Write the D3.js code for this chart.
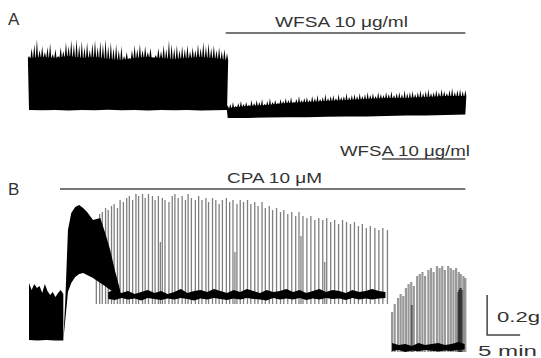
<!DOCTYPE html>
<html lang="en">
<head>
  <meta charset="UTF-8">
  <title>WFSA / CPA tension traces</title>
  <style>
    body { margin: 0; background: #fff; }
    text { font-family: 'Liberation Sans', Arial, sans-serif; fill: #333; }
  </style>
  <script src="https://d3js.org/d3.v7.min.js"></script>
</head>
<body>
<script>
  // ---- data (time in min, tension in g) ----
  const timeMax = 66.2;

  // A: before WFSA. contraction peaks every 0.4 min from t=0
  const aHighPeaks = [0.33,0.37,0.39,0.415,0.36,0.38,0.35,0.375,0.395,0.34,
    0.365,0.33,0.375,0.355,0.40,0.38,0.41,0.39,0.415,0.385,
    0.405,0.375,0.40,0.36,0.395,0.41,0.375,0.405,0.39,0.415,
    0.38,0.40,0.37,0.39,0.36,0.38,0.33,0.35,0.32,0.36,
    0.385,0.365,0.39,0.36,0.38,0.35,0.37,0.31,0.335,0.37,
    0.355,0.385,0.365,0.41,0.39,0.37,0.385,0.36,0.38,0.365,
    0.385,0.355,0.375,0.36,0.39,0.37,0.40,0.38,0.395,0.37,
    0.385,0.36,0.375,0.355,0.365,0.345];
  // solid part of the trace and its floor, every 2 min from t=0
  const aHighSolid = [0.32,0.325,0.32,0.33,0.32,0.325,0.315,0.31,0.32,0.325,0.32,0.315,0.32,0.325,0.32,0.31];
  const aHighBot = [0.06,0.059,0.06,0.058,0.06,0.059,0.061,0.059,0.06,0.058,0.06,0.059,0.06,0.058,0.059,0.06];

  // A: with WFSA. peaks every 0.4 min from t=30.1
  const aLowPeaks = [0.085,0.09,0.10,0.08,0.095,0.105,0.09,0.10,0.085,0.11,
    0.095,0.11,0.10,0.115,0.09,0.105,0.12,0.10,0.11,0.095,
    0.115,0.105,0.12,0.11,0.125,0.10,0.115,0.13,0.11,0.12,
    0.125,0.11,0.13,0.12,0.135,0.115,0.125,0.14,0.12,0.13,
    0.135,0.12,0.14,0.125,0.13,0.145,0.125,0.135,0.14,0.13,
    0.145,0.13,0.14,0.15,0.135,0.145,0.13,0.15,0.14,0.135,
    0.15,0.14,0.155,0.135,0.145,0.15,0.14,0.16,0.145,0.15,
    0.155,0.14,0.15,0.16,0.145,0.155,0.165,0.145,0.15,0.16,
    0.15,0.165,0.155,0.145,0.16,0.17,0.15,0.16,0.165,0.155,0.16];
  // every 3 min from t=30.1
  const aLowSolid = [0.07,0.08,0.085,0.095,0.10,0.105,0.11,0.115,0.12,0.12,0.125,0.13,0.13];
  const aLowBot = [0.02,0.02,0.022,0.024,0.024,0.026,0.028,0.028,0.03,0.032,0.033,0.035,0.037];

  // B: control, every 0.4 min from t=0 (top) / every 1.3 min (bottom)
  const bPreTop = [0.345,0.31,0.34,0.32,0.33,0.295,0.34,0.305,0.285,0.30,0.275,0.295,0.31,0.29];
  const bPreBot = [0.06,0.057,0.06,0.058,0.057];

  // B: initial CPA contracture
  const humpT   = [5.2, 5.5, 5.9, 6.4, 7.0, 7.6, 8.2, 8.8, 9.7, 10.8, 11.5, 12.3, 13.0, 13.8];
  const humpTop = [0.06,0.26,0.61,0.695,0.725,0.735,0.72,0.70,0.66,0.67,0.60,0.51,0.41,0.31];
  const humpBot = [0.06,0.16,0.30,0.345,0.375,0.39,0.395,0.385,0.37,0.345,0.33,0.31,0.30,0.29];

  // B: baseline band under CPA, every 1 min from t=12
  const bBaseTop = [0.30,0.31,0.295,0.305,0.29,0.30,0.31,0.295,0.305,0.29,0.30,0.315,0.295,0.305,0.31,
    0.30,0.315,0.305,0.295,0.31,0.30,0.315,0.305,0.295,0.31,0.30,0.305,0.315,0.30,0.31,
    0.295,0.305,0.315,0.30,0.31,0.305,0.295,0.31,0.30,0.305,0.315,0.305,0.30];
  const bBaseBot = [0.265,0.26,0.27,0.262,0.268,0.258,0.27,0.265,0.26,0.268,0.262,0.27,0.265,0.258,0.268,
    0.262,0.27,0.265,0.26,0.268,0.262,0.27,0.265,0.262,0.258,0.27,0.262,0.268,0.262,0.27,
    0.26,0.268,0.262,0.27,0.265,0.268,0.26,0.27,0.262,0.268,0.262,0.268,0.27];

  // B: phasic spikes under CPA [time, peak]
  const cpaSpikes = [[10.2,0.66],[10.7,0.69],[11.1,0.70],[11.6,0.72],[12.0,0.71],[12.5,0.73],[12.9,0.74],[13.4,0.72],
    [13.8,0.76],[14.3,0.75],[14.8,0.77],[15.2,0.78],[15.7,0.76],[16.2,0.79],[16.6,0.78],[17.2,0.79],[17.6,0.77],
    [18.1,0.79],[18.7,0.78],[19.1,0.76],[19.6,0.78],[19.9,0.55],[20.2,0.77],[20.6,0.76],[21.2,0.75],[21.7,0.78],
    [22.1,0.79],[22.6,0.77],[23.2,0.78],[23.7,0.76],[24.1,0.79],[24.6,0.77],[25.2,0.76],[25.7,0.78],[26.2,0.76],
    [26.8,0.77],[27.2,0.75],[27.8,0.77],[28.3,0.76],[28.8,0.74],[29.3,0.76],[29.9,0.77],[30.4,0.75],[30.9,0.76],
    [31.2,0.50],[31.5,0.74],[32.0,0.76],[32.5,0.75],[33.1,0.76],[33.6,0.74],[34.2,0.75],[34.7,0.73],[35.3,0.75],
    [35.8,0.72],[36.4,0.73],[36.9,0.71],[37.5,0.72],[38.1,0.70],[38.6,0.71],[39.2,0.69],[39.8,0.70],[40.4,0.68],
    [40.9,0.70],[41.2,0.58],[41.5,0.68],[42.1,0.67],[42.7,0.68],[43.3,0.66],[43.9,0.67],[44.5,0.66],[44.8,0.45],
    [45.1,0.67],[45.7,0.65],[46.3,0.66],[46.9,0.64],[47.5,0.66],[48.1,0.65],[48.7,0.64],[49.3,0.65],[49.9,0.63],
    [50.5,0.64],[51.1,0.62],[51.7,0.63],[52.4,0.62],[53.0,0.61],[53.6,0.62],[54.3,0.61]];

  // B: CPA + WFSA, baseline every 1 min from t=55
  const bLowTop = [0.045,0.035,0.04,0.03,0.045,0.035,0.04,0.045,0.035,0.04,0.05,0.04];
  const bLowBot = [0.005,0.01,0.0,0.008,0.004,0.01,0.006,0.002,0.008,0.005,0.01,0.012];
  const wfsaSpikes = [[55.0,0.20],[55.4,0.24],[55.9,0.27],[56.3,0.29],[56.7,0.28],[57.1,0.32],[57.5,0.34],
    [57.9,0.35],[58.0,0.235],[58.3,0.33],[58.8,0.38],[59.2,0.39],[59.6,0.40],[60.0,0.38],[60.5,0.41],[60.9,0.42],
    [61.3,0.40],[61.8,0.43],[62.2,0.42],[62.6,0.43],[63.0,0.41],[63.5,0.43],[63.9,0.42],[64.3,0.41],[64.7,0.42],
    [65.0,0.30],[65.1,0.40],[65.15,0.31],[65.3,0.32],[65.4,0.39],[65.45,0.32],[65.6,0.31],[65.8,0.38],[66.1,0.37]];

  // drug application periods [start, end] in min
  const wfsaA = [29.8, 66.1];
  const cpaB = [4.7, 66.1];
  const wfsaB = [53.5, 66.1];

  // ---- drawing ----
  const width = 541, height = 358;
  const svg = d3.select("body").append("svg")
    .attr("width", width)
    .attr("height", height);

  const x = d3.scaleLinear().domain([0, timeMax]).range([29, 466]);
  const yA = d3.scaleLinear().domain([0, 0.4]).range([122, 42]);
  const yB = d3.scaleLinear().domain([0, 0.8]).range([352, 192]);

  function series(t0, dt, vals) {
    return vals.map((v, i) => [t0 + i * dt, v]);
  }

  // filled band: top forward, bottom backward
  function band(y, top, bot) {
    const line = d3.line().x(d => x(d[0])).y(d => y(d[1]));
    svg.append("path")
      .attr("d", line(top.concat(bot.slice().reverse())) + "Z")
      .attr("fill", "#000");
  }

  // top outline made of thin peaks rising from the solid envelope
  function grass(peaks, solid, w) {
    const level = d3.scaleLinear().domain(solid.map(d => d[0])).range(solid.map(d => d[1])).clamp(true);
    const out = [];
    peaks.forEach(([t, v]) => {
      out.push([t - w, level(t - w)], [t, Math.max(v, level(t))], [t + w, level(t + w)]);
    });
    return out;
  }

  function spikes(y, data, floor, sw, op) {
    svg.append("g")
      .selectAll("line")
      .data(data)
      .enter().append("line")
      .attr("x1", d => x(d[0]))
      .attr("x2", d => x(d[0]))
      .attr("y1", d => y(d[1]))
      .attr("y2", y(floor))
      .attr("stroke", "#000")
      .attr("stroke-opacity", op)
      .attr("stroke-width", sw);
  }

  // panel A
  band(yA, grass(series(0, 0.4, aHighPeaks), series(0, 2, aHighSolid), 0.17), series(0, 2, aHighBot));
  band(yA, grass(series(30.1, 0.4, aLowPeaks), series(30.1, 3, aLowSolid), 0.15), series(30.1, 3, aLowBot));

  // panel B
  band(yB, series(0, 0.4, bPreTop), series(0, 1.3, bPreBot));
  band(yB, humpT.map((t, i) => [t, humpTop[i]]), humpT.map((t, i) => [t, humpBot[i]]));
  spikes(yB, cpaSpikes, 0.24, 1.3, 0.5);
  band(yB, series(12, 1, bBaseTop), series(12, 1, bBaseBot));
  spikes(yB, wfsaSpikes, 0.0, 2.2, 0.4);
  band(yB, series(55, 1, bLowTop), series(55, 1, bLowBot));

  // drug bars
  const bars = [[wfsaA, 33], [cpaB, 189], [wfsaB, 159]];
  svg.append("g")
    .selectAll("line")
    .data(bars)
    .enter().append("line")
    .attr("x1", d => x(d[0][0]))
    .attr("x2", d => x(d[0][1]))
    .attr("y1", d => d[1])
    .attr("y2", d => d[1])
    .attr("stroke", "#777")
    .attr("stroke-width", 2);

  // labels
  const labels = [
    { text: "A", x: 8, y: 25, size: 17 },
    { text: "B", x: 8, y: 195, size: 17 },
    { text: "WFSA 10 \u03bcg/ml", x: 275, y: 27, size: 15, len: 133 },
    { text: "CPA 10 \u03bcM", x: 227, y: 183, size: 15, len: 95 },
    { text: "WFSA 10 \u03bcg/ml", x: 340, y: 156, size: 15, len: 130 },
    { text: "0.2g", x: 497, y: 322, size: 15, len: 43 },
    { text: "5 min", x: 478, y: 356, size: 15, len: 59 }
  ];
  labels.forEach(l => {
    const t = svg.append("text")
      .attr("x", l.x)
      .attr("y", l.y)
      .style("font-size", l.size + "px")
      .text(l.text);
    if (l.len) t.attr("textLength", l.len).attr("lengthAdjust", "spacingAndGlyphs");
  });

  // scale bar: 0.2 g, 5 min
  const sbT = 69.4, sbV = 0.085;
  svg.append("path")
    .attr("d", d3.line()([[x(sbT), yB(sbV + 0.2)], [x(sbT), yB(sbV)], [x(sbT + 5), yB(sbV)]]))
    .attr("fill", "none")
    .attr("stroke", "#444")
    .attr("stroke-width", 1.5);
</script>
</body>
</html>
